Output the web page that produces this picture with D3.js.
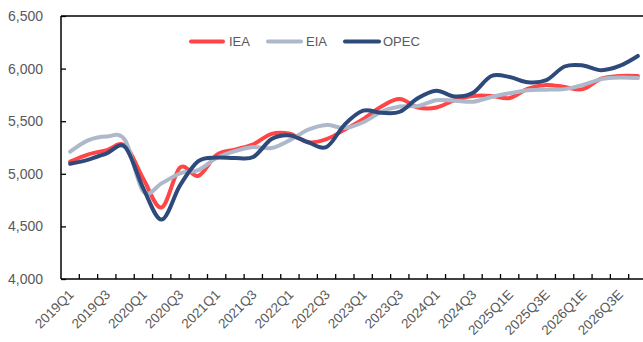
<!DOCTYPE html>
<html>
<head>
<meta charset="utf-8">
<script src="https://cdn.jsdelivr.net/npm/d3@7"></script>
<style>
  html, body { margin: 0; padding: 0; background: #fff; }
  svg { display: block; font-family: "Liberation Sans", Arial, sans-serif; }
</style>
</head>
<body>
<svg id="chart" width="643" height="342"></svg>
<script>
// Quarterly categories, 2019Q1 to 2026Q4E (forecast quarters carry an "E")
const quarters = [
  "2019Q1","2019Q2","2019Q3","2019Q4",
  "2020Q1","2020Q2","2020Q3","2020Q4",
  "2021Q1","2021Q2","2021Q3","2021Q4",
  "2022Q1","2022Q2","2022Q3","2022Q4",
  "2023Q1","2023Q2","2023Q3","2023Q4",
  "2024Q1","2024Q2","2024Q3","2024Q4",
  "2025Q1E","2025Q2E","2025Q3E","2025Q4E",
  "2026Q1E","2026Q2E","2026Q3E","2026Q4E"
];

// Series values by quarter
const iea = [
  5115, 5185, 5225, 5270, 4950, 4680, 5060, 4980,
  5180, 5230, 5280, 5380, 5380, 5300, 5330, 5420,
  5520, 5640, 5710, 5630, 5630, 5700, 5740, 5740,
  5720, 5810, 5845, 5825, 5805, 5905, 5930, 5930
];
const eia = [
  5210, 5320, 5355, 5320, 4830, 4910, 5005, 5035,
  5150, 5215, 5255, 5245, 5320, 5420, 5465, 5435,
  5490, 5590, 5640, 5645, 5700, 5695, 5685, 5730,
  5765, 5795, 5800, 5805, 5845, 5900, 5915, 5910
];
const opec = [
  5095, 5135, 5195, 5255, 4860, 4565, 4890, 5120,
  5155, 5150, 5160, 5330, 5365, 5300, 5255, 5470,
  5600, 5580, 5590, 5720, 5790, 5735, 5770, 5930,
  5920, 5870, 5890, 6020, 6030, 5985, 6025, 6120
];

const seriesNames = ["IEA", "EIA", "OPEC"];
const seriesColors = ["#FF4545", "#ADB9CA", "#2E4A7A"];
const yTicks = [4000, 4500, 5000, 5500, 6000, 6500];

const series = [iea, eia, opec].map((values, i) => ({
  name: seriesNames[i], color: seriesColors[i], values
}));

const svg = d3.select("#chart");
const plot = { left: 61, top: 16, bottom: 279, right: 647 };

const x = d3.scaleBand().domain(quarters).range([plot.left, plot.right]).padding(0);
const y = d3.scaleLinear().domain([4000, 6500]).range([plot.bottom, plot.top]);
const cx = q => x(q) + x.bandwidth() / 2;

// Frame of the plot area
svg.append("line")
  .attr("x1", plot.left).attr("x2", plot.right)
  .attr("y1", plot.top).attr("y2", plot.top)
  .attr("stroke", "#000").attr("stroke-width", 1.3);

// Y axis with inward ticks
const yAxis = svg.append("g")
  .attr("transform", `translate(${plot.left},0)`)
  .call(d3.axisLeft(y).tickValues(yTicks).tickSize(-5).tickPadding(18)
    .tickFormat(d3.format(",")));
yAxis.select(".domain").remove();
yAxis.selectAll(".tick line").attr("stroke", "#000").attr("stroke-width", 1.3);
yAxis.selectAll(".tick text")
  .attr("fill", "#595959").style("font-size", "14px");

svg.append("line")
  .attr("x1", plot.left).attr("x2", plot.left)
  .attr("y1", plot.top).attr("y2", plot.bottom)
  .attr("stroke", "#000").attr("stroke-width", 1.5);

// X axis: ticks on category boundaries, labels every second quarter
const xg = svg.append("g");
xg.selectAll("line.tick")
  .data(quarters.slice(1))
  .join("line")
  .attr("class", "tick")
  .attr("x1", d => x(d)).attr("x2", d => x(d))
  .attr("y1", plot.bottom).attr("y2", plot.bottom - 5)
  .attr("stroke", "#000").attr("stroke-width", 1.3);
xg.append("line")
  .attr("x1", plot.left).attr("x2", plot.right)
  .attr("y1", plot.bottom).attr("y2", plot.bottom)
  .attr("stroke", "#000").attr("stroke-width", 1.5);

xg.selectAll("text")
  .data(quarters.filter((d, i) => i % 2 === 0))
  .join("text")
  .attr("transform", d => `translate(${cx(d) + 1},${plot.bottom + 13}) rotate(-45)`)
  .attr("text-anchor", "end")
  .attr("dy", "0.35em")
  .attr("fill", "#595959")
  .style("font-size", "13.5px")
  .text(d => d);

// Smoothed series lines
const line = d3.line()
  .x((d, i) => cx(quarters[i]))
  .y(d => y(d))
  .curve(d3.curveCardinal.tension(0));

svg.append("g").selectAll("path")
  .data(series)
  .join("path")
  .attr("d", d => line(d.values))
  .attr("fill", "none")
  .attr("stroke", d => d.color)
  .attr("stroke-width", 4)
  .attr("stroke-linejoin", "round")
  .attr("stroke-linecap", "round");

// Legend
const legendItems = [
  { x0: 191, x1: 223, tx: 229 },
  { x0: 268, x1: 301, tx: 306 },
  { x0: 345, x1: 379, tx: 383 }
];
const legend = svg.append("g").selectAll("g")
  .data(series)
  .join("g");
legend.append("line")
  .attr("x1", (d, i) => legendItems[i].x0)
  .attr("x2", (d, i) => legendItems[i].x1)
  .attr("y1", 41.5).attr("y2", 41.5)
  .attr("stroke", d => d.color)
  .attr("stroke-width", 4)
  .attr("stroke-linecap", "round");
legend.append("text")
  .attr("x", (d, i) => legendItems[i].tx)
  .attr("y", 41.5)
  .attr("dy", "0.35em")
  .attr("fill", "#595959")
  .style("font-size", "13px")
  .text(d => d.name);
</script>
</body>
</html>
